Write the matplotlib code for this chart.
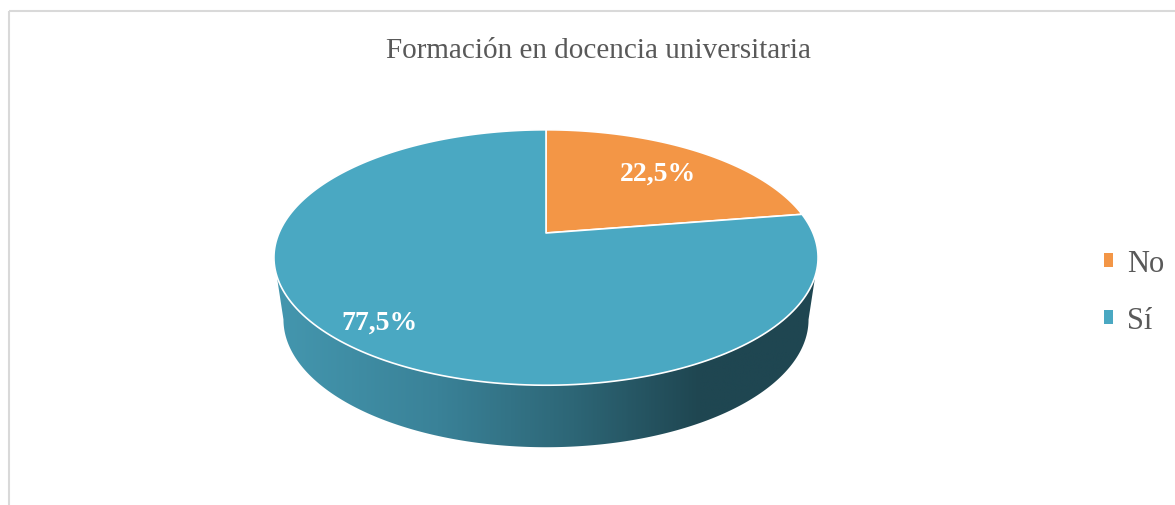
import numpy as np
import matplotlib
matplotlib.use("Agg")
import matplotlib.pyplot as plt
from matplotlib.patches import Polygon, Rectangle, Patch
from matplotlib.colors import LinearSegmentedColormap

titulo = "Formación en docencia universitaria"
categorias = ["No", "Sí"]
valores = [22.5, 77.5]
etiquetas = ["22,5%", "77,5%"]
colores = ["#F39646", "#4AA8C2"]

# geometria del pastel en pixeles (perspectiva)
cx, cy = 546, 234
A, B, k = 267, 123, 0.192
h = 62
lab_r = [0.71, 0.84]

def proyectar(phi, r=1.0, esc=1.0):
    u = r * np.sin(phi)
    v = r * np.cos(phi)
    d = 1 + k * v
    return cx + esc * A * u / d, cy - B * v / d

fig = plt.figure(figsize=(11.75, 5.06), dpi=100)
ax = fig.add_axes([0, 0, 1, 1])
ax.set_xlim(0, 1175)
ax.set_ylim(506, 0)
ax.axis("off")

ax.add_patch(Rectangle((9, 12), 1200, 600, fill=False, edgecolor="#D9D9D9", lw=1.5))

# lateral visible
phi_sil = np.arccos(-k)
t = np.linspace(phi_sil, 2 * np.pi - phi_sil, 300)
xt, yt = proyectar(t)
xb, yb = proyectar(t, esc=0.965)
lado = np.column_stack([np.concatenate([xt, xb[::-1]]),
                        np.concatenate([yt, yb[::-1] + h])])
poly = Polygon(lado, closed=True, facecolor="none", edgecolor="none")
ax.add_patch(poly)
cmap = LinearSegmentedColormap.from_list(
    "lado", [(0.0, "#4497AF"), (0.3, "#3A8298"), (0.55, "#2D6676"),
             (0.78, "#1F4651"), (1.0, "#1F4651")])
grad = np.linspace(0, 1, 400).reshape(1, -1)
im = ax.imshow(grad, cmap=cmap, aspect="auto",
               extent=(xt.min() - 2, xt.max() + 2, yb.max() + h + 5, yt.min() - 5),
               zorder=1)
im.set_clip_path(poly)
ax.set_xlim(0, 1175)
ax.set_ylim(506, 0)

# cara superior
frac = np.cumsum([0] + valores) / sum(valores) * 2 * np.pi
for i in range(len(valores)):
    a = np.linspace(frac[i], frac[i + 1], 200)
    xs, ys = proyectar(a)
    pts = np.column_stack([np.concatenate([[cx], xs]), np.concatenate([[cy], ys])])
    ax.add_patch(Polygon(pts, closed=True, facecolor=colores[i],
                         edgecolor="white", lw=1.2, zorder=2, joinstyle="round"))
    m = (frac[i] + frac[i + 1]) / 2
    lx, ly = proyectar(m, lab_r[i])
    ax.text(lx, ly, etiquetas[i], ha="center", va="center", color="white",
            fontsize=20, fontweight="bold", family="Liberation Serif", zorder=3)

ax.text(598, 51, titulo, ha="center", va="center", color="#595959",
        fontsize=21, family="Liberation Serif")

handles = [Patch(facecolor=c, edgecolor="none") for c in colores]
ax.legend(handles, categorias, loc="center left", bbox_to_anchor=(1104 / 1175, 1 - 293 / 506),
          frameon=False, handlelength=0.3, handleheight=0.3, handletextpad=0.45,
          labelspacing=0.92, prop={"family": "Liberation Serif", "size": 22},
          labelcolor="#595959", borderpad=0, borderaxespad=0)

fig.savefig("out.png", dpi=100)
